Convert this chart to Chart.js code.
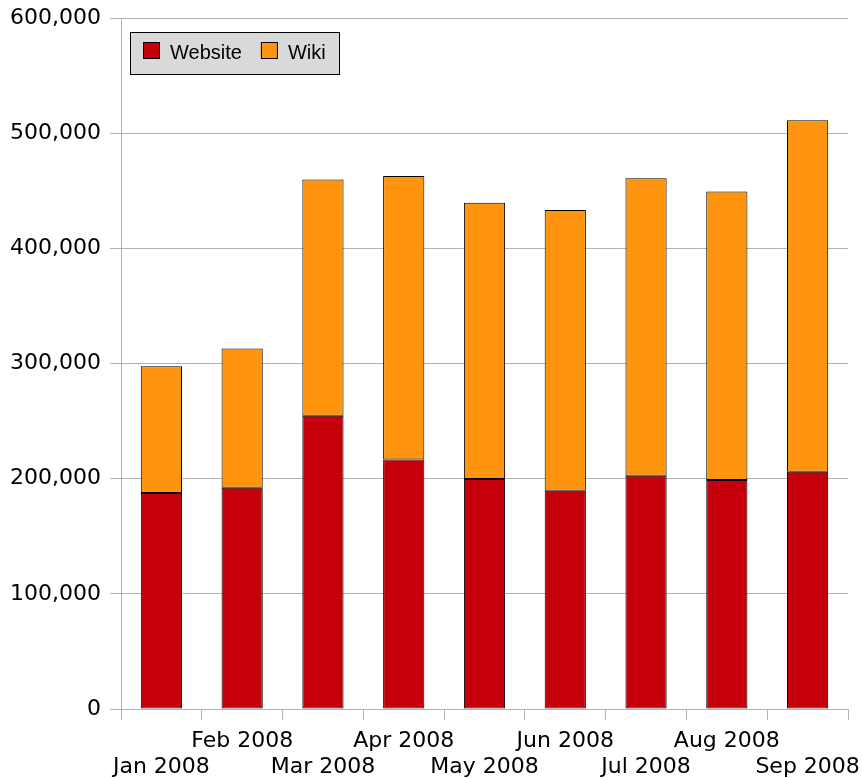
<!DOCTYPE html>
<html>
<head>
<meta charset="utf-8">
<script src="https://cdn.jsdelivr.net/npm/chart.js@4"></script>
<style>
  html, body { margin: 0; padding: 0; background: #fff; }
  #wrap { width: 862px; height: 778px; }
</style>
</head>
<body>
<div id="wrap"><canvas id="chart" width="862" height="778"></canvas></div>
<script>
var months = ['Jan 2008', 'Feb 2008', 'Mar 2008', 'Apr 2008', 'May 2008',
              'Jun 2008', 'Jul 2008', 'Aug 2008', 'Sep 2008'];
var website = [187500, 192100, 254600, 216700, 199650, 189500, 202500, 198800, 206000];
var wiki = [110200, 121000, 205200, 246000, 239900, 243700, 258400, 250600, 305300];
var yTicks = [0, 100000, 200000, 300000, 400000, 500000, 600000];

var tickFont = { family: 'DejaVu Sans', size: 22 };

// legend box drawn inside the plot, top left
var boxLegend = {
    id: 'boxLegend',
    afterDraw: function (chart) {
        var ctx = chart.ctx;
        var x = 130, y = 32, w = 209, h = 42;
        ctx.save();
        ctx.fillStyle = '#d9d9d9';
        ctx.fillRect(x, y, w, h);
        ctx.strokeStyle = '#000';
        ctx.lineWidth = 1;
        ctx.strokeRect(x + 0.5, y + 0.5, w, h);
        ctx.font = '20px "Liberation Sans", Arial, sans-serif';
        ctx.textBaseline = 'middle';
        var cx = x + 13;
        chart.data.datasets.forEach(function (ds) {
            ctx.fillStyle = ds.backgroundColor;
            ctx.fillRect(cx, y + 10, 16, 16);
            ctx.strokeStyle = '#000';
            ctx.strokeRect(cx + 0.5, y + 10.5, 16, 16);
            ctx.fillStyle = '#000';
            ctx.fillText(ds.label, cx + 27, y + 21);
            cx += 27 + ctx.measureText(ds.label).width + 19;
        });
        ctx.restore();
    }
};

new Chart(document.getElementById('chart'), {
    type: 'bar',
    data: {
        labels: months,
        datasets: [{
            label: 'Website',
            data: website,
            backgroundColor: '#c5000b',
            borderColor: '#000',
            borderWidth: 1,
            borderSkipped: false
        }, {
            label: 'Wiki',
            data: wiki,
            backgroundColor: '#ff950e',
            borderColor: '#000',
            borderWidth: 1,
            borderSkipped: false
        }]
    },
    options: {
        responsive: false,
        animation: false,
        layout: { padding: { top: 18, right: 14, left: 0, bottom: 0 } },
        datasets: { bar: { barPercentage: 0.51, categoryPercentage: 1.0 } },
        plugins: {
            legend: { display: false },
            tooltip: { enabled: false }
        },
        scales: {
            x: {
                stacked: true,
                offset: true,
                grid: {
                    offset: true,
                    drawOnChartArea: false,
                    drawTicks: true,
                    tickLength: 11,
                    color: '#b3b3b3'
                },
                border: { color: '#b3b3b3' },
                ticks: {
                    autoSkip: false,
                    maxRotation: 0,
                    minRotation: 0,
                    padding: 8,
                    color: '#000',
                    font: tickFont,
                    callback: function (v, i) {
                        return i % 2 === 0 ? ['', months[i]] : [months[i], ''];
                    }
                },
                afterFit: function (scale) {
                    scale.height = 69;
                    scale.paddingLeft = 0;
                    scale.paddingRight = 0;
                }
            },
            y: {
                stacked: true,
                min: 0,
                max: 600000,
                grid: {
                    color: '#b3b3b3',
                    tickLength: 11
                },
                border: { color: '#b3b3b3' },
                afterBuildTicks: function (scale) {
                    scale.ticks = yTicks.map(function (v) { return { value: v }; });
                },
                ticks: {
                    padding: 9,
                    color: '#000',
                    font: tickFont,
                    callback: function (v) { return v.toLocaleString('en-US'); }
                },
                afterFit: function (scale) {
                    scale.width = 121;
                    scale.paddingTop = 0;
                    scale.paddingBottom = 0;
                }
            }
        }
    },
    plugins: [boxLegend]
});
</script>
</body>
</html>
